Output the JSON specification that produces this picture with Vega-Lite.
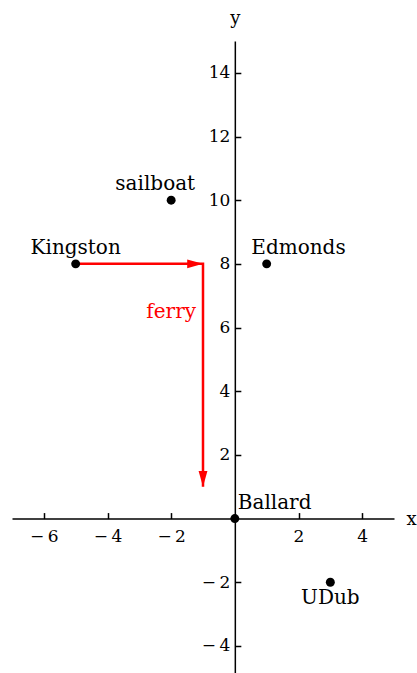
{
  "$schema": "https://vega.github.io/schema/vega-lite/v6.json",
  "width": 382,
  "height": 632,
  "autosize": {"type": "none"},
  "padding": {"left": 12, "top": 41, "right": 23, "bottom": 0},
  "background": "white",
  "config": {"view": {"stroke": null}, "font": "DejaVu Serif"},
  "datasets": {
    "places": [
      {"name": "Kingston", "x": -5, "y": 8},
      {"name": "sailboat", "x": -2, "y": 10},
      {"name": "Edmonds", "x": 1, "y": 8},
      {"name": "Ballard", "x": 0, "y": 0},
      {"name": "UDub", "x": 3, "y": -2}
    ],
    "labels": [
      {"name": "Kingston", "x": -5, "y": 8.5, "kind": "place"},
      {"name": "sailboat", "x": -2.5, "y": 10.5, "kind": "place"},
      {"name": "Edmonds", "x": 2, "y": 8.5, "kind": "place"},
      {"name": "Ballard", "x": 1.25, "y": 0.5, "kind": "place"},
      {"name": "UDub", "x": 3, "y": -2.5, "kind": "place"},
      {"name": "ferry", "x": -2, "y": 6.5, "kind": "route"}
    ],
    "ferry": [
      {"step": 1, "x": -5, "y": 8},
      {"step": 2, "x": -1, "y": 8},
      {"step": 3, "x": -1, "y": 1}
    ],
    "heads": [
      {"x": -1, "y": 8, "dir": "right"},
      {"x": -1, "y": 1, "dir": "down"}
    ]
  },
  "encoding": {
    "x": {
      "field": "x", "type": "quantitative",
      "scale": {"domain": [-7, 5], "nice": false, "zero": false},
      "axis": {
        "orient": "bottom", "offset": -154.42,
        "values": [-6, -4, -2, 2, 4],
        "grid": false,
        "domainColor": "black", "domainWidth": 1.5,
        "tickColor": "black", "tickWidth": 1.5, "tickSize": -6,
        "labelPadding": 16, "labelFontSize": 17, "labelFont": "DejaVu Serif",
        "labelColor": "black", "labelOverlap": false, "labelFlush": false, "labelBound": false,
        "labelExpr": "datum.value < 0 ? '\u2212\u2009' + abs(datum.value) : datum.label",
        "title": "x", "titleFont": "DejaVu Serif", "titleFontSize": 18, "titleFontWeight": "normal",
        "titleColor": "black", "titleX": 394, "titleY": 6, "titleAlign": "left",
        "titleBaseline": "alphabetic", "titleAngle": 0
      }
    },
    "y": {
      "field": "y", "type": "quantitative",
      "scale": {"domain": [-4.85, 15], "nice": false, "zero": false},
      "axis": {
        "orient": "left", "offset": -222.83,
        "values": [-4, -2, 2, 4, 6, 8, 10, 12, 14],
        "grid": false,
        "domainColor": "black", "domainWidth": 1.5,
        "tickColor": "black", "tickWidth": 1.5, "tickSize": -6,
        "labelPadding": 11, "labelFontSize": 17, "labelFont": "DejaVu Serif",
        "labelColor": "black", "labelOverlap": false, "labelFlush": false, "labelBound": false,
        "labelExpr": "datum.value < 0 ? '\u2212\u2009' + abs(datum.value) : datum.label",
        "title": "y", "titleFont": "DejaVu Serif", "titleFontSize": 18, "titleFontWeight": "normal",
        "titleColor": "black", "titleX": 0, "titleY": -18, "titleAlign": "center",
        "titleBaseline": "alphabetic", "titleAngle": 0
      }
    }
  },
  "layer": [
    {
      "data": {"name": "ferry"},
      "mark": {"type": "line", "color": "red", "strokeWidth": 2.5},
      "encoding": {
        "order": {"field": "step", "type": "quantitative"}
      }
    },
    {
      "data": {"name": "heads"},
      "mark": {"type": "point", "filled": true, "color": "red", "opacity": 1, "size": 1000},
      "encoding": {
        "shape": {
          "field": "dir", "type": "nominal",
          "scale": {"domain": ["right", "down"], "range": ["M 0 0 L -1 -0.28 L -1 0.28 Z", "M 0 0 L -0.28 -1 L 0.28 -1 Z"]},
          "legend": null
        }
      }
    },
    {
      "data": {"name": "places"},
      "mark": {"type": "point", "filled": true, "color": "black", "opacity": 1, "size": 80}
    },
    {
      "data": {"name": "labels"},
      "mark": {"type": "text", "font": "DejaVu Serif", "fontSize": 20, "align": "center", "baseline": "middle"},
      "encoding": {
        "text": {"field": "name"},
        "color": {
          "field": "kind", "type": "nominal",
          "scale": {"domain": ["place", "route"], "range": ["black", "red"]},
          "legend": null
        }
      }
    }
  ]
}
